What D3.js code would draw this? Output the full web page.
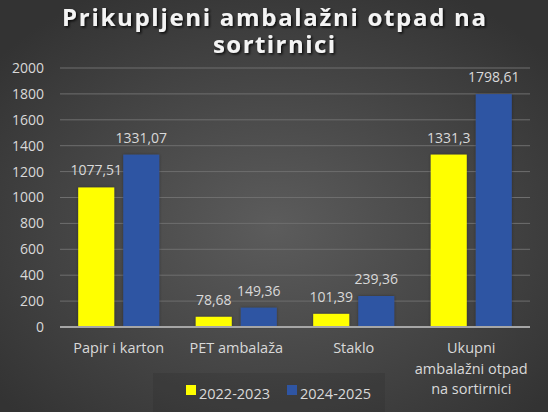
<!DOCTYPE html>
<html>
<head>
<meta charset="utf-8">
<script src="https://cdn.jsdelivr.net/npm/d3@7"></script>
<style>
  body { margin: 0; background: #3a3a3a; }
  svg { display: block; }
  text { font-family: "Open Sans", sans-serif; }
</style>
</head>
<body>
<svg id="chart" width="548" height="412"></svg>
<script>
// data
var categories = ["Papir i karton", "PET ambalaža", "Staklo", "Ukupni ambalažni otpad na sortirnici"];
var categoryLines = [["Papir i karton"], ["PET ambalaža"], ["Staklo"], ["Ukupni", "ambalažni otpad", "na sortirnici"]];
var seriesNames = ["2022-2023", "2024-2025"];
var values2022 = [1077.51, 78.68, 101.39, 1331.3];
var values2024 = [1331.07, 149.36, 239.36, 1798.61];
var valueLabels2022 = ["1077,51", "78,68", "101,39", "1331,3"];
var valueLabels2024 = ["1331,07", "149,36", "239,36", "1798,61"];
var yTicks = [0, 200, 400, 600, 800, 1000, 1200, 1400, 1600, 1800, 2000];
var colors = ["#ffff00", "#2f55a3"];

var svg = d3.select("#chart"),
    width = +svg.attr("width"),
    height = +svg.attr("height");

var defs = svg.append("defs");
var grad = defs.append("radialGradient")
    .attr("id", "bg")
    .attr("cx", "50%").attr("cy", "55%").attr("r", "65%");
grad.append("stop").attr("offset", "0%").attr("stop-color", "#5c5c5c");
grad.append("stop").attr("offset", "100%").attr("stop-color", "#333333");

var shadow = defs.append("filter").attr("id", "shadow")
    .attr("x", "-10%").attr("y", "-20%").attr("width", "120%").attr("height", "150%");
shadow.append("feDropShadow")
    .attr("dx", 1.5).attr("dy", 1.5).attr("stdDeviation", 1.2)
    .attr("flood-color", "#000").attr("flood-opacity", 0.8);

var barShadow = defs.append("filter").attr("id", "barshadow")
    .attr("x", "-20%").attr("y", "-10%").attr("width", "140%").attr("height", "120%");
barShadow.append("feDropShadow")
    .attr("dx", 0).attr("dy", 0).attr("stdDeviation", 1.5)
    .attr("flood-color", "#000").attr("flood-opacity", 0.35);

svg.append("rect")
    .attr("width", width).attr("height", height)
    .attr("fill", "url(#bg)");

// title
var title = svg.append("g").attr("filter", "url(#shadow)");
title.append("text")
    .attr("x", width / 2).attr("y", 26)
    .attr("text-anchor", "middle")
    .attr("fill", "#f4f4f4")
    .style("font-size", "24px").style("font-weight", "bold")
    .attr("textLength", 424).attr("lengthAdjust", "spacing")
    .text("Prikupljeni ambalažni otpad na");
title.append("text")
    .attr("x", width / 2).attr("y", 53)
    .attr("text-anchor", "middle")
    .attr("fill", "#f4f4f4")
    .style("font-size", "24px").style("font-weight", "bold")
    .attr("textLength", 122).attr("lengthAdjust", "spacing")
    .text("sortirnici");

// scales
var x0 = d3.scaleBand()
    .domain(categories)
    .range([60, 530])
    .paddingInner(0.31)
    .paddingOuter(0.155);

var x1 = d3.scaleBand()
    .domain(seriesNames)
    .range([0, x0.bandwidth()])
    .paddingInner(0.2);

var y = d3.scaleLinear()
    .domain([0, 2000])
    .range([327, 68]);

// grid
svg.append("g")
    .selectAll("line")
    .data(yTicks.filter(function(d) { return d > 0; }))
    .enter().append("line")
    .attr("x1", 60).attr("x2", 530)
    .attr("y1", function(d) { return y(d); })
    .attr("y2", function(d) { return y(d); })
    .attr("stroke", "#6e6e6e")
    .attr("stroke-width", 1);

// y axis
var yAxis = svg.append("g")
    .attr("transform", "translate(48,0)")
    .call(d3.axisLeft(y).tickValues(yTicks).tickFormat(d3.format("d")).tickSize(0).tickPadding(4));
yAxis.select(".domain").remove();
yAxis.selectAll("text")
    .attr("fill", "#d9d9d9")
    .style("font-size", "14px")
    .style("font-family", "'Open Sans', sans-serif");

// bars
var table = categories.map(function(c, i) {
  return {
    cat: c,
    vals: [
      { s: seriesNames[0], v: values2022[i], lab: valueLabels2022[i] },
      { s: seriesNames[1], v: values2024[i], lab: valueLabels2024[i] }
    ]
  };
});

var groups = svg.append("g")
    .selectAll("g")
    .data(table)
    .enter().append("g")
    .attr("transform", function(d) { return "translate(" + x0(d.cat) + ",0)"; });

groups.selectAll("rect")
    .data(function(d) { return d.vals; })
    .enter().append("rect")
    .attr("x", function(d) { return x1(d.s); })
    .attr("y", function(d) { return y(d.v); })
    .attr("width", x1.bandwidth())
    .attr("height", function(d) { return y(0) - y(d.v); })
    .attr("fill", function(d, i) { return colors[i]; })
    .attr("filter", "url(#barshadow)");

groups.selectAll("text.val")
    .data(function(d) { return d.vals; })
    .enter().append("text")
    .attr("class", "val")
    .attr("x", function(d) { return x1(d.s) + x1.bandwidth() / 2; })
    .attr("y", function(d) { return y(d.v) - 12; })
    .attr("text-anchor", "middle")
    .attr("fill", "#d9d9d9")
    .style("font-size", "14px")
    .text(function(d) { return d.lab; });

// baseline
svg.append("line")
    .attr("x1", 60).attr("x2", 530)
    .attr("y1", y(0)).attr("y2", y(0))
    .attr("stroke", "#a6a6a6")
    .attr("stroke-width", 2);

// category labels
var catLabels = svg.append("g")
    .selectAll("text")
    .data(categories)
    .enter().append("text")
    .attr("x", function(d) { return x0(d) + x0.bandwidth() / 2; })
    .attr("y", 353)
    .attr("text-anchor", "middle")
    .attr("fill", "#d9d9d9")
    .style("font-size", "14.5px");

catLabels.selectAll("tspan")
    .data(function(d, i) { return categoryLines[i]; })
    .enter().append("tspan")
    .attr("x", function() { var p = this.parentNode; return d3.select(p).attr("x"); })
    .attr("dy", function(d, i) { return i === 0 ? 0 : 20.5; })
    .text(function(d) { return d; });

// legend
var legend = svg.append("g");
legend.append("rect")
    .attr("x", 153).attr("y", 373)
    .attr("width", 232).attr("height", 39)
    .attr("fill", "#000").attr("opacity", 0.08);

var legendX = [186, 287];
var items = legend.selectAll("g")
    .data(seriesNames)
    .enter().append("g")
    .attr("transform", function(d, i) { return "translate(" + legendX[i] + ",385)"; });
items.append("rect")
    .attr("width", 10).attr("height", 10)
    .attr("fill", function(d, i) { return colors[i]; });
items.append("text")
    .attr("x", 13).attr("y", 14)
    .attr("fill", "#d9d9d9")
    .style("font-size", "14.5px")
    .text(function(d) { return d; });
</script>
</body>
</html>
